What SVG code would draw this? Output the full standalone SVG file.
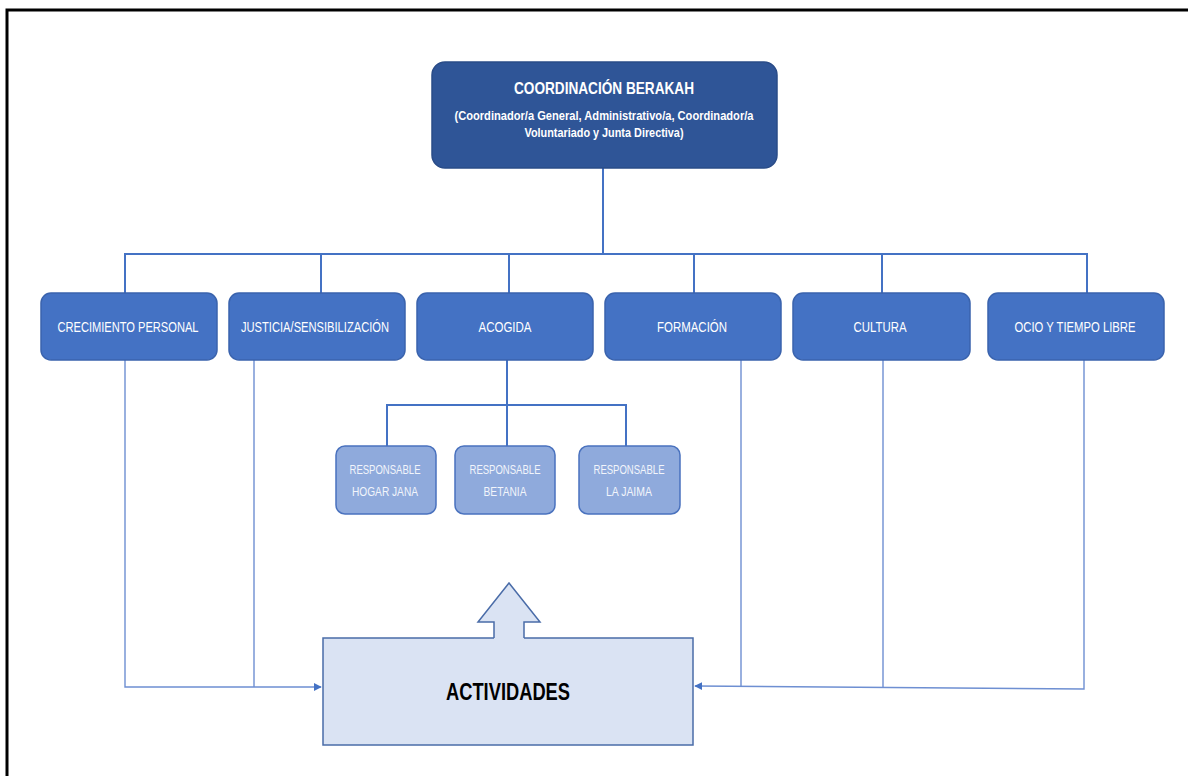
<svg xmlns="http://www.w3.org/2000/svg" width="1188" height="776" viewBox="0 0 1188 776">
<style>
.top{fill:#2F5597;stroke:#2A4C88;stroke-width:1.5}
.mid{fill:#4472C4;stroke:#3A63AD;stroke-width:1.5}
.sub{fill:#8FAADC;stroke:#4A72BE;stroke-width:1.5}
.act{fill:#DAE3F3;stroke:#4A6CA8;stroke-width:1.5}
.t{font-family:"Liberation Sans",Arial,sans-serif;text-anchor:middle;fill:#FFFFFF}
.tb{font-weight:bold}
.m{font-size:14.5px}
.s{font-size:13px;fill:#F2F5FB}
.conn{fill:none;stroke:#4472C4;stroke-width:2}
.thin{fill:none;stroke:#6E8FD2;stroke-width:1.4}
</style>
<defs>
<marker id="ah" viewBox="0 0 10 10" refX="9" refY="5" markerWidth="8" markerHeight="8" markerUnits="userSpaceOnUse" orient="auto">
<path d="M0,0 L10,5 L0,10 Z" fill="#4472C4"/>
</marker>
</defs>
<rect width="1188" height="776" fill="#FFFFFF"/>
<path d="M7,776 V10 H1188" fill="none" stroke="#000000" stroke-width="3"/>

<g id="connectors">
<path class="conn" d="M603,168 V254"/>
<path class="conn" d="M125,293 V254 H1087 V293"/>
<path class="conn" d="M321,254 V293 M509,254 V293 M694,254 V293 M882,254 V293"/>
<path class="conn" d="M507,360 V446"/>
<path class="conn" d="M387,446 V405 H626 V446"/>
<path class="thin" d="M125,360 V687 H321" marker-end="url(#ah)"/>
<path class="thin" d="M254,360 V687"/>
<path class="thin" d="M1084,360 V689 L695,686" marker-end="url(#ah)"/>
<path class="thin" d="M741,360 V687"/>
<path class="thin" d="M883,360 V688"/>
</g>

<g id="coordinacion">
<rect class="top" x="432" y="62" width="345" height="106" rx="13"/>
<text class="t tb" x="604" y="94" font-size="17" textLength="180" lengthAdjust="spacingAndGlyphs">COORDINACIÓN BERAKAH</text>
<text class="t tb" x="604" y="120" font-size="13" textLength="299" lengthAdjust="spacingAndGlyphs">(Coordinador/a General, Administrativo/a, Coordinador/a</text>
<text class="t tb" x="604" y="137" font-size="13" textLength="159" lengthAdjust="spacingAndGlyphs">Voluntariado y Junta Directiva)</text>
</g>

<g id="crecimiento">
<rect class="mid" x="41" y="293" width="176" height="67" rx="10"/>
<text class="t m" x="128" y="332" textLength="141" lengthAdjust="spacingAndGlyphs">CRECIMIENTO PERSONAL</text>
</g>
<g id="justicia">
<rect class="mid" x="229" y="293" width="176" height="67" rx="10"/>
<text class="t m" x="315" y="332" textLength="148" lengthAdjust="spacingAndGlyphs">JUSTICIA/SENSIBILIZACIÓN</text>
</g>
<g id="acogida">
<rect class="mid" x="417" y="293" width="176" height="67" rx="10"/>
<text class="t m" x="505" y="332" textLength="53" lengthAdjust="spacingAndGlyphs">ACOGIDA</text>
</g>
<g id="formacion">
<rect class="mid" x="605" y="293" width="176" height="67" rx="10"/>
<text class="t m" x="692" y="332" textLength="70" lengthAdjust="spacingAndGlyphs">FORMACIÓN</text>
</g>
<g id="cultura">
<rect class="mid" x="793" y="293" width="177" height="67" rx="10"/>
<text class="t m" x="880" y="332" textLength="53" lengthAdjust="spacingAndGlyphs">CULTURA</text>
</g>
<g id="ocio">
<rect class="mid" x="988" y="293" width="176" height="67" rx="10"/>
<text class="t m" x="1075" y="332" textLength="121" lengthAdjust="spacingAndGlyphs">OCIO Y TIEMPO LIBRE</text>
</g>

<g id="hogar-jana">
<rect class="sub" x="336" y="446" width="100" height="68" rx="9"/>
<text class="t s" x="385" y="474" textLength="71" lengthAdjust="spacingAndGlyphs">RESPONSABLE</text>
<text class="t s" x="385" y="496" textLength="66" lengthAdjust="spacingAndGlyphs">HOGAR JANA</text>
</g>
<g id="betania">
<rect class="sub" x="455" y="446" width="100" height="68" rx="9"/>
<text class="t s" x="505" y="474" textLength="71" lengthAdjust="spacingAndGlyphs">RESPONSABLE</text>
<text class="t s" x="505" y="496" textLength="43" lengthAdjust="spacingAndGlyphs">BETANIA</text>
</g>
<g id="la-jaima">
<rect class="sub" x="579" y="446" width="101" height="68" rx="9"/>
<text class="t s" x="629" y="474" textLength="71" lengthAdjust="spacingAndGlyphs">RESPONSABLE</text>
<text class="t s" x="629" y="496" textLength="46" lengthAdjust="spacingAndGlyphs">LA JAIMA</text>
</g>

<g id="actividades">
<rect class="act" x="323" y="638" width="370" height="107"/>
<path d="M494,639.5 V622 H478 L509,583 L540,622 H524 V639.5 Z" fill="#DAE3F3"/>
<path d="M494,638 V622 H478 L509,583 L540,622 H524 V638" fill="none" stroke="#4A6CA8" stroke-width="1.5"/>
<text x="508" y="700" font-family="'Liberation Sans',Arial,sans-serif" font-weight="bold" font-size="24" text-anchor="middle" fill="#000000" textLength="124" lengthAdjust="spacingAndGlyphs">ACTIVIDADES</text>
</g>
</svg>
